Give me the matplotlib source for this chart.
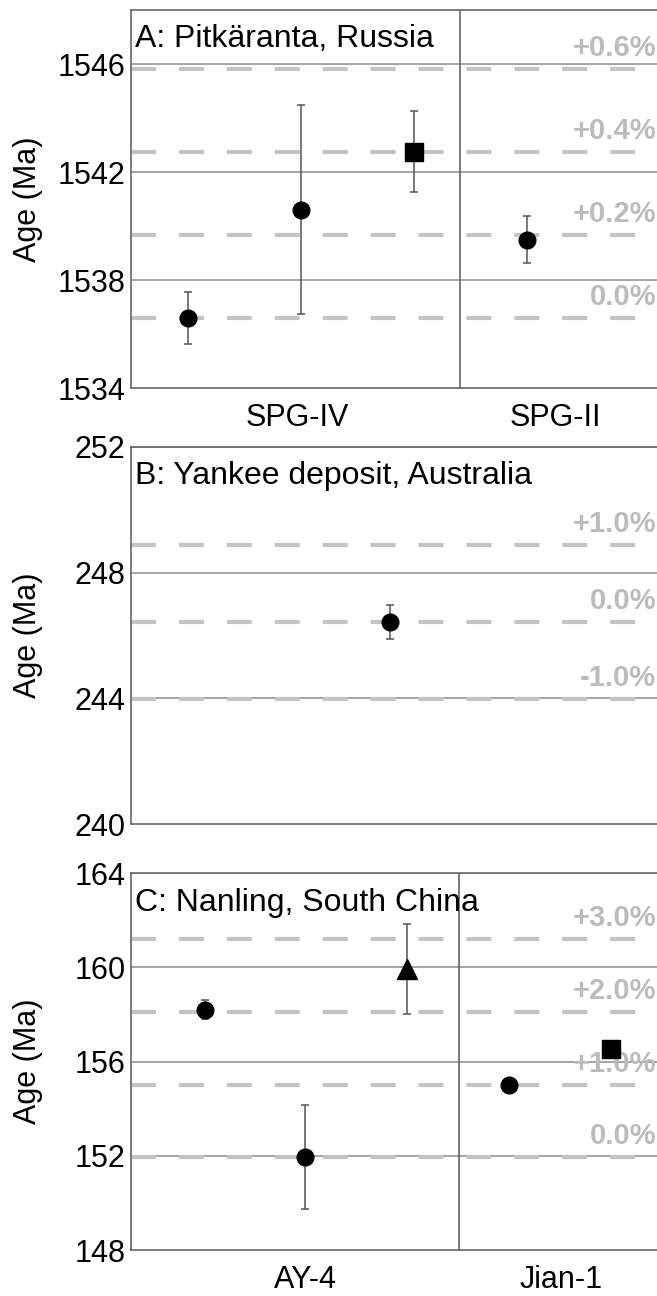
import numpy as np
import matplotlib
matplotlib.use('Agg')
import matplotlib.pyplot as plt

plt.rcParams['font.family'] = ['Liberation Sans', 'DejaVu Sans']

# panel A: Pitkaranta
a_x = [0.5, 1.5, 2.5, 3.5]
a_age = [1536.6, 1540.6, 1542.75, 1539.5]
a_err = [0.97, 3.87, 1.5, 0.88]
a_mark = ['o', 'o', 's', 'o']
a_lines = [1536.6, 1539.67, 1542.75, 1545.82]
a_pct = ['0.0%', '+0.2%', '+0.4%', '+0.6%']
a_cats = ['SPG-IV', 'SPG-II']
a_cat_x = [1.47, 3.75]

# panel B: Yankee
b_x = [2.29]
b_age = [246.44]
b_err = [0.54]
b_mark = ['o']
b_lines = [243.98, 246.44, 248.88]
b_pct = ['-1.0%', '0.0%', '+1.0%']

# panel C: Nanling
c_x = [0.65, 1.54, 2.44, 3.34, 4.24]
c_age = [158.2, 151.95, 159.93, 155.02, 156.55]
c_err = [0.4, 2.2, 1.9, 0.0, 0.0]
c_mark = ['o', 'o', '^', 'o', 's']
c_lines = [151.95, 155.02, 158.1, 161.2]
c_pct = ['0.0%', '+1.0%', '+2.0%', '+3.0%']
c_cats = ['AY-4', 'Jian-1']
c_cat_x = [1.54, 3.8]

W, H = 657, 1296
fig = plt.figure(figsize=(W/100, H/100), dpi=100)

def box(top, bot):
    return [131/W, 1-bot/H, 1-131/W, (bot-top)/H]

panels = [
    dict(rect=box(10, 388), x=a_x, age=a_age, err=a_err, mk=a_mark, lines=a_lines,
         pct=a_pct, ylim=(1534, 1548), ticks=[1534, 1538, 1542, 1546],
         title='A: Pitkäranta, Russia', cats=a_cats, cat_x=a_cat_x, sep=2.91),
    dict(rect=box(446.7, 824.3), x=b_x, age=b_age, err=b_err, mk=b_mark, lines=b_lines,
         pct=b_pct, ylim=(240, 252), ticks=[240, 244, 248, 252],
         title='B: Yankee deposit, Australia', cats=[], cat_x=[], sep=None),
    dict(rect=box(873.3, 1250), x=c_x, age=c_age, err=c_err, mk=c_mark, lines=c_lines,
         pct=c_pct, ylim=(148, 164), ticks=[148, 152, 156, 160, 164],
         title='C: Nanling, South China', cats=c_cats, cat_x=c_cat_x, sep=2.90),
]

for p in panels:
    ax = fig.add_axes(p['rect'])
    ax.set_xlim(0, 4.65)
    ax.set_ylim(*p['ylim'])
    ax.set_yticks(p['ticks'])
    ax.tick_params(axis='y', length=0, pad=4, labelsize=22)
    ax.set_xticks(p['cat_x'])
    ax.set_xticklabels(p['cats'])
    ax.tick_params(axis='x', length=0, pad=11, labelsize=22)
    for s in ['left', 'bottom', 'top']:
        ax.spines[s].set_color('#666666')
        ax.spines[s].set_linewidth(1.2)
    ax.spines['right'].set_visible(False)
    for t in p['ticks'][1:]:
        ax.axhline(t, color='#8c8c8c', lw=1.1, zorder=1)
    if p['sep'] is not None:
        ax.axvline(p['sep'], color='#666666', lw=1.2, zorder=1)
    for yv, lab in zip(p['lines'], p['pct']):
        ax.axhline(yv, color='#c4c4c4', lw=3, dashes=(6, 5.5), zorder=2)
        ax.annotate(lab, (4.645, yv), xytext=(0, 5), textcoords='offset points',
                    ha='right', va='bottom', fontsize=21, fontweight='bold',
                    color='#bcbcbc', zorder=3)
    for xv, yv, ev, mk in zip(p['x'], p['age'], p['err'], p['mk']):
        ms = {'o': 12, 's': 13, '^': 14}[mk]
        ax.errorbar(xv, yv, yerr=ev, fmt=mk, color='black', ms=ms,
                    ecolor='#555555', elinewidth=1.1, capsize=3, capthick=1.1, zorder=5)
    ax.text(0.008, 0.962, p['title'], transform=ax.transAxes, ha='left', va='top',
            fontsize=23, zorder=6)
    fig.text(28/W, p['rect'][1] + p['rect'][3]/2, 'Age (Ma)', rotation=90,
             ha='center', va='center', fontsize=22)

fig.savefig('out.png', dpi=100)
